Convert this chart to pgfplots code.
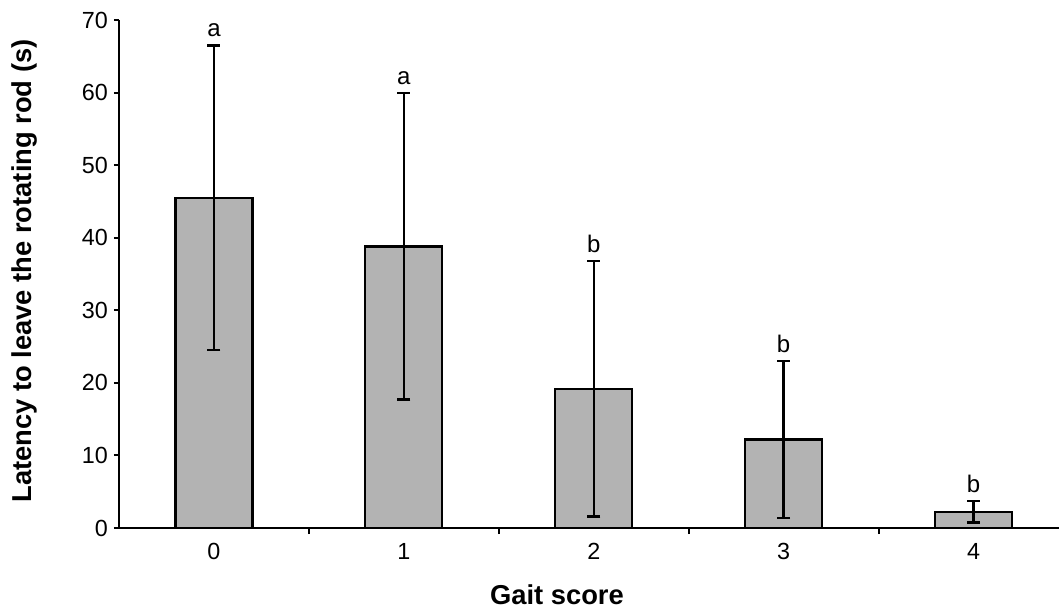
\documentclass[border=0pt]{standalone}
\usepackage{fontspec}
\setmainfont{Liberation Sans}
\usepackage{pgfplots}
\pgfplotsset{compat=1.18}
\definecolor{bargray}{RGB}{179,179,179}
\begin{document}
\begin{tikzpicture}
\begin{axis}[
  at={(0,0)}, anchor=south west,
  scale only axis,
  width=705pt, height=381pt,
  xmin=-0.5, xmax=4.45,
  ymin=0, ymax=70,
  axis x line=bottom, axis y line=left,
  axis line style={-, line width=1.6pt, black},
  tick align=outside,
  /pgf/number format/assume math mode=true,
  ticklabel style={font=\fontsize{17.5}{20}\selectfont},
  ytick={0,10,...,70},
  major tick length=3.75pt,
  minor tick length=4.5pt,
  y tick style={line width=1.6pt, black},
  xtick={0,1,2,3,4},
  major x tick style={draw=none},
  minor xtick={0.5,1.5,2.5,3.5},
  minor x tick style={line width=1.6pt, black},
  xticklabel style={yshift=-4pt},
  yticklabel style={xshift=-1pt},
  xlabel={\textbf{Gait score}},
  ylabel={\textbf{Latency to leave the rotating rod (s)}},
  xlabel style={at={(axis description cs:0,0)}, anchor=center, xshift=328.5pt, yshift=-49.9pt, font=\fontsize{20.5}{24}\selectfont},
  every axis y label/.style={at={(axis description cs:-0.1,0.506)}, rotate=90, anchor=center, font=\fontsize{20.5}{24}\selectfont},
]
\addplot[ybar, bar width=57.75pt, fill=bargray, draw=black, line width=1.7pt,
  error bars/.cd, y dir=both, y explicit,
  error bar style={line width=1.8pt, black},
  error mark options={rotate=90, mark size=4.9pt, line width=1.8pt, black}]
coordinates {
  (0,45.5) +- (0,21.0)
  (1,38.8) +- (0,21.1)
  (2,19.2) +- (0,17.6)
  (3,12.2) +- (0,10.8)
  (4,2.25) +- (0,1.5)
};
\node[anchor=south, inner sep=0pt, yshift=6pt, font=\fontsize{18}{20}\selectfont] at (axis cs:0,66.5) {a};
\node[anchor=south, inner sep=0pt, yshift=6pt, font=\fontsize{18}{20}\selectfont] at (axis cs:1,59.9) {a};
\node[anchor=south, inner sep=0pt, yshift=6pt, font=\fontsize{18}{20}\selectfont] at (axis cs:2,36.8) {b};
\node[anchor=south, inner sep=0pt, yshift=6pt, font=\fontsize{18}{20}\selectfont] at (axis cs:3,23.0) {b};
\node[anchor=south, inner sep=0pt, yshift=6pt, font=\fontsize{18}{20}\selectfont] at (axis cs:4,3.75) {b};
\end{axis}
\pgfresetboundingbox
\path[use as bounding box] (-89.25pt,-63.75pt) rectangle (705pt,396pt);
\end{tikzpicture}
\end{document}
